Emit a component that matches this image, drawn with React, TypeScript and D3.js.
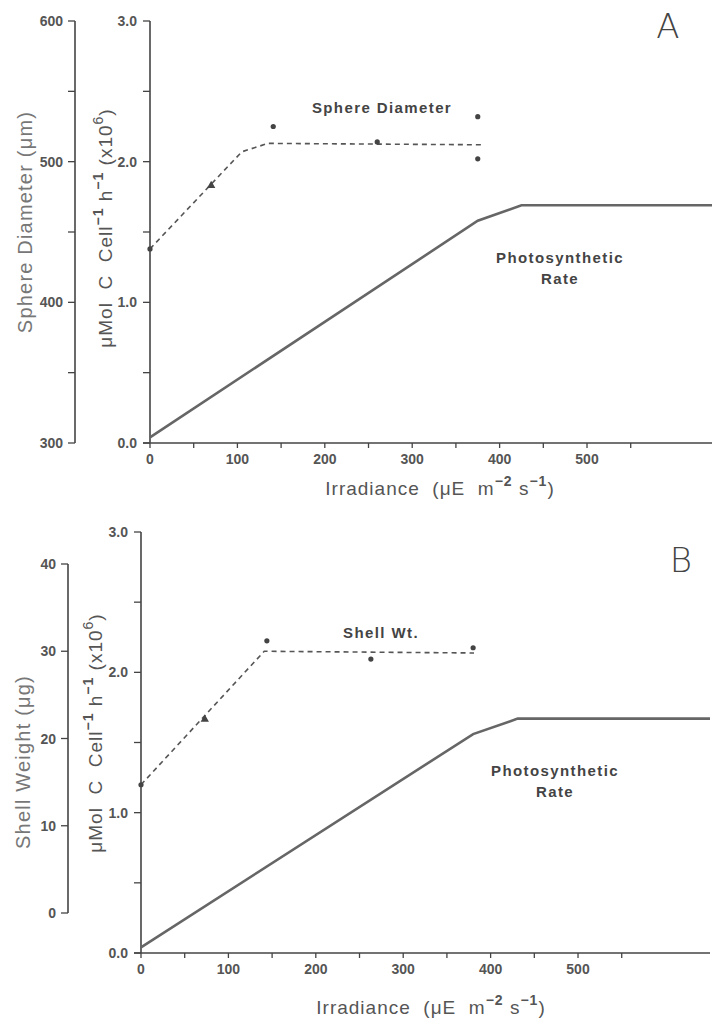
import React from 'react';
import * as d3 from 'd3';

const W = 712;
const H = 1020;

// shared axes
const irradianceTicks = [0, 100, 200, 300, 400, 500];
const irradianceMinor = [50, 150, 250, 350, 450, 550];
const rateTicks = [0, 1, 2, 3];
const rateMinor = [0.5, 1.5, 2.5];

// panel A: sphere diameter
const sphereTicks = [300, 400, 500, 600];
const sphereMinor = [350, 450, 550];
const rateAX = [0, 375, 425, 643];
const rateAY = [0.04, 1.58, 1.69, 1.69];
const sphereFitX = [0, 105, 135, 380];
const sphereFitY = [438, 507, 513, 512];
const sphereObsX = [0, 70, 141, 260, 375, 375];
const sphereObsY = [438, 483, 525, 514, 532, 502];

// panel B: shell weight
const shellTicks = [0, 10, 20, 30, 40];
const rateBX = [0, 380, 431, 651];
const rateBY = [0.04, 1.56, 1.67, 1.67];
const shellFitX = [0, 141, 381];
const shellFitY = [14.7, 30.0, 29.8];
const shellObsX = [0, 73, 144, 263, 380];
const shellObsY = [14.7, 22.2, 31.2, 29.1, 30.4];

const INK = '#444';
const TICK_FONT = '"Liberation Sans", Arial, sans-serif';
const TITLE_FONT = '"Liberation Sans", Arial, sans-serif';

type PanelProps = {
  letter: string;
  letterPos: [number, number];
  xRange: [number, number];
  xDomain: [number, number];
  rateRange: [number, number];
  outerX: number;
  outerDomain: [number, number];
  outerRange: [number, number];
  outerTicks: number[];
  outerMinor: number[];
  outerTitle: string;
  outerTitlePos: [number, number];
  innerTitlePos: [number, number];
  xTitlePos: [number, number];
  rateX: number[];
  rateY: number[];
  fitX: number[];
  fitY: number[];
  obsX: number[];
  obsY: number[];
  seriesLabel: string;
  seriesLabelPos: [number, number];
  rateLabelPos: [number, number];
};

function Panel(p: PanelProps) {
  const x = d3.scaleLinear().domain(p.xDomain).range(p.xRange);
  const yRate = d3.scaleLinear().domain([0, 3]).range(p.rateRange);
  const yOuter = d3.scaleLinear().domain(p.outerDomain).range(p.outerRange);
  const x0 = p.xRange[0];
  const axisY = p.rateRange[0];

  const rateLine = d3.line<number>()
    .x((_, i) => x(p.rateX[i]))
    .y(d => yRate(d));
  const fitLine = d3.line<number>()
    .x((_, i) => x(p.fitX[i]))
    .y(d => yOuter(d));
  const tri = d3.symbol().type(d3.symbolTriangle).size(30)();

  return (
    <g>
      {/* x axis */}
      <line x1={x0 - 7} x2={p.xRange[1]} y1={axisY} y2={axisY} stroke={INK} strokeWidth={1.6} />
      {irradianceTicks.concat(irradianceMinor).map(t => (
        <line key={'xt' + t} x1={x(t)} x2={x(t)} y1={axisY} y2={axisY + 5} stroke={INK} strokeWidth={1.3} />
      ))}
      {irradianceTicks.map(t => (
        <text key={'xl' + t} x={x(t)} y={axisY + 21} textAnchor="middle" fontSize={14}
          fontWeight="bold" fill="#555" fontFamily={TICK_FONT}>{t}</text>
      ))}
      <text x={p.xTitlePos[0]} y={p.xTitlePos[1]} textAnchor="middle" fontSize={19} fill="#555"
        fontFamily={TITLE_FONT} letterSpacing={1}>
        Irradiance&#160;&#160;(μE&#160;&#160;m<tspan dy={-9} fontSize={14} fontWeight="bold">−2</tspan>
        <tspan dy={9}>&#160;s</tspan><tspan dy={-9} fontSize={14} fontWeight="bold">−1</tspan>
        <tspan dy={9}>)</tspan>
      </text>

      {/* inner rate axis */}
      <line x1={x0} x2={x0} y1={p.rateRange[1]} y2={axisY} stroke={INK} strokeWidth={1.6} />
      {rateTicks.concat(rateMinor).map(t => (
        <line key={'rt' + t} x1={x0 - 7} x2={x0} y1={yRate(t)} y2={yRate(t)} stroke={INK} strokeWidth={1.3} />
      ))}
      {rateTicks.map(t => (
        <text key={'rl' + t} x={x0 - 13} y={yRate(t) + 5} textAnchor="end" fontSize={14}
          fontWeight="bold" fill="#555" fontFamily={TICK_FONT}>{t.toFixed(1)}</text>
      ))}
      <text transform={`translate(${p.innerTitlePos[0]},${p.innerTitlePos[1]}) rotate(-90)`}
        textAnchor="middle" fontSize={19} fill="#555" fontFamily={TITLE_FONT} letterSpacing={1}>
        μMol&#160;&#160;C&#160;&#160;Cell<tspan dy={-9} fontSize={14} fontWeight="bold">−1</tspan>
        <tspan dy={9}>&#160;h</tspan><tspan dy={-9} fontSize={14} fontWeight="bold">−1</tspan>
        <tspan dy={9}>&#160;(x10</tspan><tspan dy={-9} fontSize={14}>6</tspan><tspan dy={9}>)</tspan>
      </text>

      {/* outer axis */}
      <line x1={p.outerX} x2={p.outerX} y1={p.outerRange[1]} y2={p.outerRange[0]} stroke={INK} strokeWidth={1.6} />
      {p.outerTicks.concat(p.outerMinor).map(t => (
        <line key={'ot' + t} x1={p.outerX - 7} x2={p.outerX} y1={yOuter(t)} y2={yOuter(t)} stroke={INK} strokeWidth={1.3} />
      ))}
      {p.outerTicks.map(t => (
        <text key={'ol' + t} x={p.outerX - 12} y={yOuter(t) + 5} textAnchor="end" fontSize={14}
          fontWeight="bold" fill="#555" fontFamily={TICK_FONT}>{t}</text>
      ))}
      <text transform={`translate(${p.outerTitlePos[0]},${p.outerTitlePos[1]}) rotate(-90)`}
        textAnchor="middle" fontSize={20} fill="#777" fontFamily={TITLE_FONT} letterSpacing={1.2}>
        {p.outerTitle}
      </text>

      {/* photosynthetic rate */}
      <path d={rateLine(p.rateY) || ''} fill="none" stroke="#666" strokeWidth={2.6} />
      {/* dashed fit */}
      <path d={fitLine(p.fitY) || ''} fill="none" stroke="#555" strokeWidth={1.6} strokeDasharray="5,4" />
      {p.obsY.map((v, i) => i === 1
        ? <path key={'o' + i} d={tri || ''} transform={`translate(${x(p.obsX[i])},${yOuter(v)})`} fill="#444" />
        : <circle key={'o' + i} cx={x(p.obsX[i])} cy={yOuter(v)} r={2.6} fill="#444" />)}

      <text x={p.seriesLabelPos[0]} y={p.seriesLabelPos[1]} textAnchor="middle" fontSize={15}
        fontWeight="bold" fill="#444" fontFamily={TICK_FONT} letterSpacing={1.4}>{p.seriesLabel}</text>
      <text x={p.rateLabelPos[0]} y={p.rateLabelPos[1]} textAnchor="middle" fontSize={15}
        fontWeight="bold" fill="#444" fontFamily={TICK_FONT} letterSpacing={1.4}>Photosynthetic</text>
      <text x={p.rateLabelPos[0]} y={p.rateLabelPos[1] + 21} textAnchor="middle" fontSize={15}
        fontWeight="bold" fill="#444" fontFamily={TICK_FONT} letterSpacing={1.4}>Rate</text>

      <text x={p.letterPos[0]} y={p.letterPos[1]} textAnchor="middle" fontSize={34}
        fill="#444" fontFamily='"DejaVu Sans", sans-serif' fontWeight={200}>{p.letter}</text>
    </g>
  );
}

export default function App() {
  return (
    <svg width={W} height={H} viewBox={`0 0 ${W} ${H}`}
      style={{ position: 'absolute', left: 0, top: 0, background: '#fff' }}>
      <rect width={W} height={H} fill="#fff" />
      <Panel
        letter="A" letterPos={[668, 38]}
        xRange={[150, 712]} xDomain={[0, 643]} rateRange={[443, 21]}
        outerX={75} outerDomain={[300, 600]} outerRange={[443, 21]}
        outerTicks={sphereTicks} outerMinor={sphereMinor}
        outerTitle="Sphere Diameter  (μm)" outerTitlePos={[32, 222]}
        innerTitlePos={[112, 228]} xTitlePos={[440, 495]}
        rateX={rateAX} rateY={rateAY}
        fitX={sphereFitX} fitY={sphereFitY}
        obsX={sphereObsX} obsY={sphereObsY}
        seriesLabel="Sphere Diameter" seriesLabelPos={[382, 113]}
        rateLabelPos={[560, 263]}
      />
      <Panel
        letter="B" letterPos={[681, 572]}
        xRange={[141, 710]} xDomain={[0, 651]} rateRange={[953, 532]}
        outerX={68} outerDomain={[0, 40]} outerRange={[913, 564]}
        outerTicks={shellTicks} outerMinor={[]}
        outerTitle="Shell Weight  (μg)" outerTitlePos={[30, 762]}
        innerTitlePos={[102, 733]} xTitlePos={[431, 1014]}
        rateX={rateBX} rateY={rateBY}
        fitX={shellFitX} fitY={shellFitY}
        obsX={shellObsX} obsY={shellObsY}
        seriesLabel="Shell Wt." seriesLabelPos={[381, 638]}
        rateLabelPos={[555, 776]}
      />
    </svg>
  );
}
